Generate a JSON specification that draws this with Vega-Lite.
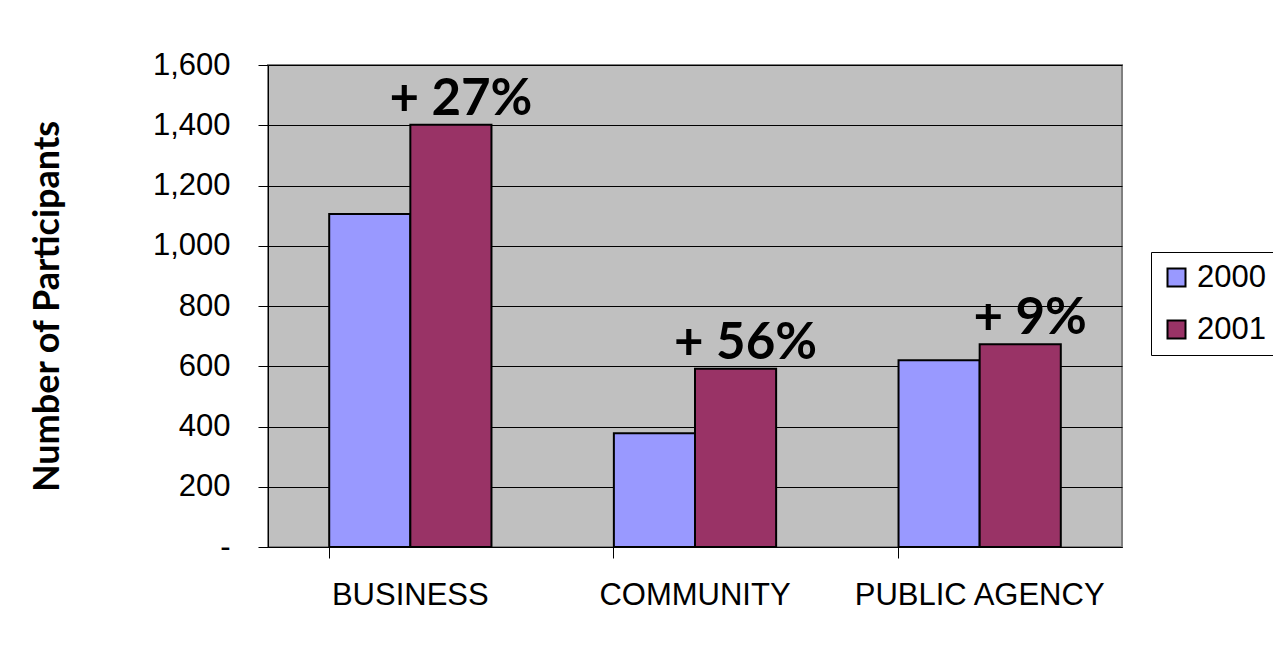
{
  "$schema": "https://vega.github.io/schema/vega-lite/v6.json",
  "width": 854,
  "height": 482,
  "autosize": {"type": "none"},
  "padding": {"left": 268, "top": 65, "right": 151, "bottom": 103},
  "background": "white",
  "data": {
    "values": [
      {"sector": "BUSINESS", "year": "2000", "participants": 1105, "change": null},
      {"sector": "BUSINESS", "year": "2001", "participants": 1402, "change": "+ 27%"},
      {"sector": "COMMUNITY", "year": "2000", "participants": 378, "change": null},
      {"sector": "COMMUNITY", "year": "2001", "participants": 592, "change": "+ 56%"},
      {"sector": "PUBLIC AGENCY", "year": "2000", "participants": 620, "change": null},
      {"sector": "PUBLIC AGENCY", "year": "2001", "participants": 673, "change": "+ 9%"}
    ]
  },
  "encoding": {
    "x": {
      "field": "sector", "type": "nominal", "sort": null, "title": null,
      "scale": {"paddingInner": 0.43, "paddingOuter": 0.215},
      "axis": {
        "labelAngle": 0, "labelFont": "Liberation Sans", "labelFontSize": 31,
        "labelColor": "black", "labelPadding": 22, "labelLimit": 0, "bandPosition": 0,
        "tickSize": 11, "tickColor": "black", "domainColor": "black", "domainWidth": 1
      }
    },
    "xOffset": {"field": "year", "type": "nominal", "scale": {"domain": ["2000", "2001"], "paddingInner": 0}},
    "y": {
      "field": "participants", "type": "quantitative",
      "title": "Number of Participants",
      "scale": {"domain": [0, 1600], "nice": false},
      "axis": {
        "values": [0, 200, 400, 600, 800, 1000, 1200, 1400, 1600],
        "labelExpr": "datum.value == 0 ? '-' : format(datum.value, ',')",
        "labelFont": "Liberation Sans", "labelFontSize": 31, "labelColor": "black",
        "labelPadding": 28, "tickSize": 10, "tickColor": "black",
        "domainColor": "black", "gridColor": "black", "gridWidth": 1, "gridOpacity": 1,
        "titleFont": "Lato", "titleFontSize": 36, "titleFontWeight": "bold",
        "titleColor": "black", "titlePadding": 86
      }
    }
  },
  "layer": [
    {
      "mark": {"type": "bar", "stroke": "black", "strokeWidth": 2},
      "encoding": {
        "color": {
          "field": "year", "type": "nominal", "title": null,
          "scale": {"domain": ["2000", "2001"], "range": ["#9999FF", "#993366"]},
          "legend": {
            "orient": "none", "legendX": 883, "legendY": 187,
            "symbolType": "square", "symbolSize": 324, "symbolStrokeColor": "black",
            "symbolStrokeWidth": 2, "symbolOpacity": 1,
            "labelFont": "Liberation Sans", "labelFontSize": 31, "labelColor": "black",
            "labelOffset": 5, "rowPadding": 20, "labelLimit": 0,
            "strokeColor": "black", "fillColor": "white", "padding": 10
          }
        }
      }
    },
    {
      "transform": [{"filter": "datum.change != null"}],
      "mark": {
        "type": "text", "font": "Lato", "fontWeight": "bold", "fontSize": 51,
        "baseline": "alphabetic", "align": "center", "dy": -10, "dx": 10, "color": "black"
      },
      "encoding": {
        "text": {"field": "change"}
      }
    }
  ],
  "config": {
    "view": {"fill": "#C0C0C0", "stroke": "#808080", "strokeWidth": 2}
  }
}
